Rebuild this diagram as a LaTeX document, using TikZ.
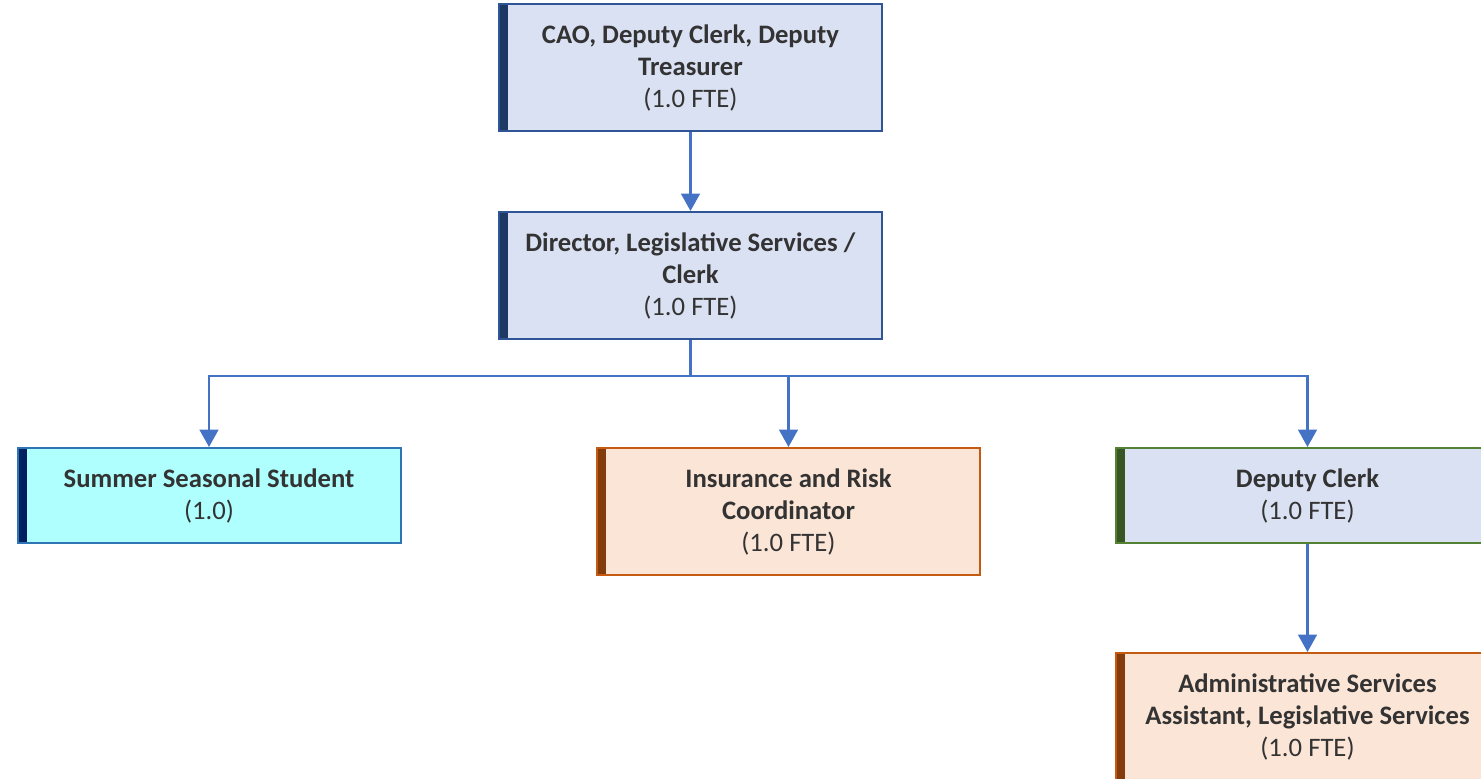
\documentclass[tikz,border=0pt]{standalone}
\usepackage{fontspec}
\setmainfont{Carlito}
\usetikzlibrary{arrows.meta}
\definecolor{conn}{HTML}{4472C4}
\definecolor{txt}{HTML}{333333}
\definecolor{blueFill}{HTML}{DAE1F3}
\definecolor{blueLine}{HTML}{2F5597}
\definecolor{navyBar}{HTML}{1F3864}
\definecolor{cyanFill}{HTML}{AFFFFF}
\definecolor{cyanLine}{HTML}{2E75B6}
\definecolor{darkNavy}{HTML}{002060}
\definecolor{peachFill}{HTML}{FBE5D6}
\definecolor{peachLine}{HTML}{C55A11}
\definecolor{brownBar}{HTML}{843C0C}
\definecolor{greenLine}{HTML}{548235}
\definecolor{greenBar}{HTML}{375623}
\tikzset{
  orgbox/.style n args={3}{draw=#2, fill=#1, line width=1.5pt, inner sep=0pt,
    minimum width=383*0.75pt, align=center, text=txt,
    font=\fontsize{20}{24}\selectfont,
    path picture={\fill[#3] (path picture bounding box.north west) rectangle
      ([xshift=7pt]path picture bounding box.south west);}},
  tall/.style={minimum height=127*0.75pt},
  short/.style={minimum height=95*0.75pt},
  conn/.style={draw=conn, line width=1.8pt, -{Triangle[width=14pt,length=13pt]}},
  link/.style={draw=conn, line width=1.8pt}
}
\begin{document}
\begin{tikzpicture}[x=0.75pt,y=-0.75pt]
\useasboundingbox (0,0) rectangle (1481,778);
\clip (0,0) rectangle (1481,778);
\node[orgbox={blueFill}{blueLine}{navyBar}, tall] (cao) at (690.5,67.5)
  {\textbf{CAO, Deputy Clerk, Deputy}\\\textbf{Treasurer}\\(1.0 FTE)};
\node[orgbox={blueFill}{blueLine}{navyBar}, tall] (dir) at (690.5,275.5)
  {\textbf{Director, Legislative Services /}\\\textbf{Clerk}\\(1.0 FTE)};
\node[orgbox={cyanFill}{cyanLine}{darkNavy}, short] (sum) at (209,495.5)
  {\textbf{Summer Seasonal Student}\\(1.0)};
\node[orgbox={peachFill}{peachLine}{brownBar}, tall] (ins) at (788.5,511.5)
  {\textbf{Insurance and Risk}\\\textbf{Coordinator}\\(1.0 FTE)};
\node[orgbox={blueFill}{greenLine}{greenBar}, short] (dep) at (1307.5,495.5)
  {\textbf{Deputy Clerk}\\(1.0 FTE)};
\node[orgbox={peachFill}{peachLine}{brownBar}, tall] (adm) at (1307.5,716.5)
  {\textbf{Administrative Services}\\\textbf{Assistant, Legislative Services}\\(1.0 FTE)};
\coordinate (bus) at (690.5,376);
\draw[conn] (cao) -- (dir);
\draw[link] (dir.south) -- (bus);
\draw[conn] (bus) -| (sum.north);
\draw[conn] (bus) -| (ins.north);
\draw[conn] (bus) -| (dep.north);
\draw[conn] (dep) -- (adm);
\end{tikzpicture}
\end{document}
